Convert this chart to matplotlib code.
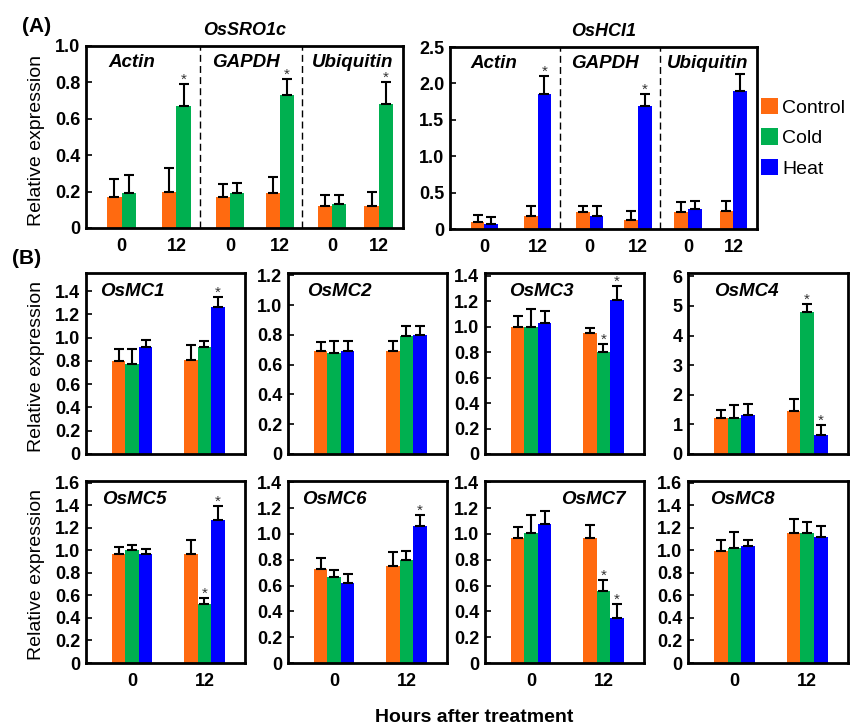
import numpy as np
import matplotlib
matplotlib.use('Agg')
import matplotlib.pyplot as plt
from matplotlib.patches import Patch
from matplotlib.ticker import FuncFormatter

plt.rcParams['font.family'] = ['Liberation Sans', 'DejaVu Sans']

orange = '#FF6A10'
green = '#00B050'
blue = '#0000FF'

# ---- (A) data: order Actin 0, Actin 12, GAPDH 0, GAPDH 12, Ubiquitin 0, Ubiquitin 12
ref_genes = ['Actin', 'GAPDH', 'Ubiquitin']
times = ['0', '12']

sro_control = [0.17, 0.20, 0.17, 0.19, 0.12, 0.12]
sro_control_err = [0.10, 0.13, 0.07, 0.09, 0.06, 0.08]
sro_cold = [0.19, 0.67, 0.19, 0.73, 0.13, 0.68]
sro_cold_err = [0.10, 0.12, 0.06, 0.09, 0.05, 0.12]
sro_cold_sig = [0, 1, 0, 1, 0, 1]

hci_control = [0.09, 0.18, 0.23, 0.13, 0.24, 0.25]
hci_control_err = [0.10, 0.13, 0.08, 0.12, 0.13, 0.13]
hci_heat = [0.07, 1.86, 0.18, 1.69, 0.27, 1.90]
hci_heat_err = [0.09, 0.24, 0.13, 0.16, 0.11, 0.23]
hci_heat_sig = [0, 1, 0, 1, 0, 0]

# ---- (B) data: [0 h, 12 h] per gene
mc_genes = ['OsMC1', 'OsMC2', 'OsMC3', 'OsMC4', 'OsMC5', 'OsMC6', 'OsMC7', 'OsMC8']
mc_control = [[0.80, 0.81], [0.69, 0.69], [1.00, 0.95], [1.23, 1.46],
              [0.97, 0.97], [0.73, 0.75], [0.97, 0.97], [0.99, 1.15]]
mc_control_err = [[0.10, 0.13], [0.06, 0.07], [0.08, 0.04], [0.25, 0.38],
                  [0.06, 0.12], [0.08, 0.11], [0.08, 0.10], [0.10, 0.13]]
mc_cold = [[0.77, 0.92], [0.68, 0.79], [1.00, 0.80], [1.21, 4.78],
           [1.00, 0.52], [0.67, 0.80], [1.01, 0.56], [1.02, 1.15]]
mc_cold_err = [[0.13, 0.05], [0.08, 0.07], [0.14, 0.06], [0.43, 0.30],
               [0.05, 0.06], [0.05, 0.07], [0.14, 0.08], [0.14, 0.10]]
mc_heat = [[0.92, 1.26], [0.69, 0.80], [1.03, 1.21], [1.33, 0.64],
           [0.97, 1.27], [0.62, 1.06], [1.08, 0.35], [1.04, 1.12]]
mc_heat_err = [[0.06, 0.09], [0.07, 0.06], [0.09, 0.11], [0.35, 0.33],
               [0.04, 0.12], [0.07, 0.09], [0.10, 0.11], [0.05, 0.10]]
mc_cold_sig12 = [0, 0, 1, 1, 1, 0, 1, 0]
mc_heat_sig12 = [1, 0, 1, 1, 1, 1, 1, 0]

mc_tick_max = [1.4, 1.2, 1.4, 6, 1.6, 1.4, 1.4, 1.6]
mc_tick_step = [0.2, 0.2, 0.2, 1, 0.2, 0.2, 0.2, 0.2]
mc_ylim = [1.555, 1.215, 1.42, 6.11, 1.615, 1.41, 1.41, 1.615]

W, H = 853, 727
fig = plt.figure(figsize=(W / 100, H / 100), dpi=100)


def add_ax(x0, y0, x1, y1):
    return fig.add_axes([x0 / W, 1 - y1 / H, (x1 - x0) / W, (y1 - y0) / H])


def fmt(decimals):
    def f(v, pos):
        if abs(v) < 1e-9:
            return '0'
        return f'{v:.{decimals}f}'
    return FuncFormatter(f)


def style(ax):
    for s in ax.spines.values():
        s.set_linewidth(2)
    ax.tick_params(axis='y', direction='in', length=4, width=1.2, pad=4,
                   labelsize=13)
    ax.tick_params(axis='x', length=0, pad=7, labelsize=13)
    for lab in ax.get_xticklabels() + ax.get_yticklabels():
        lab.set_fontweight('bold')


def bars(ax, xs, vals, errs, color, width):
    ax.bar(xs, vals, width=width, color=color, edgecolor='none', zorder=2)
    ax.errorbar(xs, vals, yerr=[np.zeros(len(vals)), errs], fmt='none',
                ecolor='black', elinewidth=1.5, capsize=3.5, capthick=1.5,
                zorder=3)


def star(ax, x, top):
    ax.annotate('*', xy=(x, top), xytext=(0, -2), textcoords='offset points',
                ha='center', va='bottom', fontsize=11, color='#333333')


# ---------------- panel A ----------------
centers = np.array([0.35, 0.89, 1.42, 1.91, 2.42, 2.88])
seps = [1.12, 2.13]
label_x = [0.45, 1.57, 2.62]
bw = 0.14

panelA = [
    (add_ax(86, 46, 403, 228), 'OsSRO1c', sro_cold, sro_cold_err, sro_cold_sig,
     sro_control, sro_control_err, green, 1.0, 0.2),
    (add_ax(450, 47, 757, 229), 'OsHCI1', hci_heat, hci_heat_err, hci_heat_sig,
     hci_control, hci_control_err, blue, 2.5, 0.5),
]
for ax, title, tv, te, tsig, cv, ce, tcol, ymax, step in panelA:
    bars(ax, centers - bw / 2, cv, ce, orange, bw)
    bars(ax, centers + bw / 2, tv, te, tcol, bw)
    for i in range(len(tv)):
        if tsig[i]:
            star(ax, centers[i] + bw / 2, tv[i] + te[i])
    for s in seps:
        ax.axvline(s, color='black', linestyle=(0, (5, 3)), linewidth=1)
    for xl, g in zip(label_x, ref_genes):
        ax.text(xl, 0.91 * ymax, g, ha='center', va='center', fontsize=13.5,
                fontweight='bold', fontstyle='italic')
    ax.set_xlim(0, 3.12)
    ax.set_ylim(0, ymax)
    ax.set_yticks(np.arange(0, ymax + 1e-9, step))
    ax.yaxis.set_major_formatter(fmt(1))
    ax.set_xticks(centers)
    ax.set_xticklabels(times * 3)
    ax.set_title(title, fontsize=13, fontweight='bold', fontstyle='italic',
                 pad=8)
    style(ax)

# ---------------- panel B ----------------
box_x = [(86, 245), (288, 447), (485, 644), (688, 848)]
box_y = [(273, 454), (481, 663)]
title_x = [0.09, 0.12, 0.15, 0.16, 0.10, 0.09, 0.48, 0.14]
gc = np.array([0.29, 0.745])
bwB = 0.085

for k, gene in enumerate(mc_genes):
    r, c = divmod(k, 4)
    ax = add_ax(box_x[c][0], box_y[r][0], box_x[c][1], box_y[r][1])
    bars(ax, gc - bwB, mc_control[k], mc_control_err[k], orange, bwB)
    bars(ax, gc, mc_cold[k], mc_cold_err[k], green, bwB)
    bars(ax, gc + bwB, mc_heat[k], mc_heat_err[k], blue, bwB)
    if mc_cold_sig12[k]:
        star(ax, gc[1], mc_cold[k][1] + mc_cold_err[k][1])
    if mc_heat_sig12[k]:
        star(ax, gc[1] + bwB, mc_heat[k][1] + mc_heat_err[k][1])
    ax.text(title_x[k], 0.9, gene, transform=ax.transAxes, ha='left',
            va='center', fontsize=13.5, fontweight='bold', fontstyle='italic')
    ax.set_xlim(0, 1)
    ax.set_ylim(0, mc_ylim[k])
    ax.set_yticks(np.arange(0, mc_tick_max[k] + 1e-9, mc_tick_step[k]))
    ax.yaxis.set_major_formatter(fmt(0 if mc_tick_step[k] >= 1 else 1))
    ax.set_xticks(gc)
    if r == 1:
        ax.set_xticklabels(times)
    else:
        ax.set_xticklabels([])
    style(ax)

# ---------------- labels and legend ----------------
for yc in [140, 366, 575]:
    fig.text(37 / W, 1 - yc / H, 'Relative expression', rotation=90,
             ha='center', va='center', fontsize=14)
fig.text(474 / W, 1 - 718 / H, 'Hours after treatment', ha='center',
         va='center', fontsize=14, fontweight='bold')
fig.text(22 / W, 1 - 27 / H, '(A)', ha='left', va='center', fontsize=15,
         fontweight='bold')
fig.text(12 / W, 1 - 258 / H, '(B)', ha='left', va='center', fontsize=15,
         fontweight='bold')

handles = [Patch(facecolor=orange, edgecolor='none', label='Control'),
           Patch(facecolor=green, edgecolor='none', label='Cold'),
           Patch(facecolor=blue, edgecolor='none', label='Heat')]
fig.legend(handles=handles, loc='upper left',
           bbox_to_anchor=(761 / W, 1 - 98 / H), frameon=False, fontsize=14,
           handlelength=0.9, handleheight=0.9, handletextpad=0.2,
           labelspacing=0.6, borderpad=0, borderaxespad=0)

fig.savefig('out.png', dpi=100)
